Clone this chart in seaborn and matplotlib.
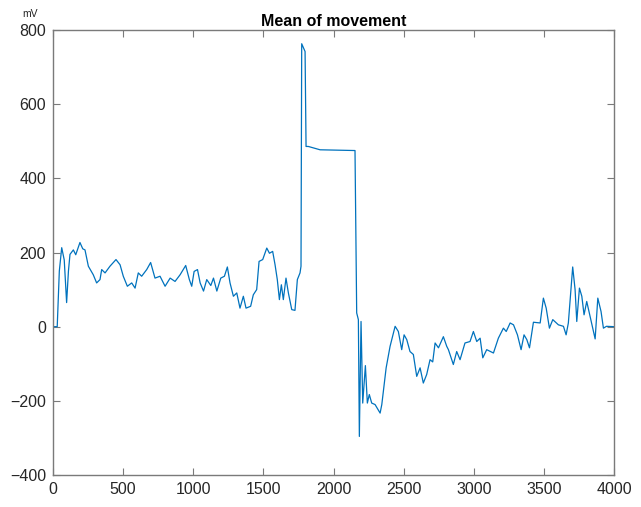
import matplotlib
matplotlib.use("Agg")
import matplotlib.pyplot as plt
import seaborn as sns
import pandas as pd

sample = [0, 30, 45, 62, 80, 97, 110, 121, 145, 162, 192, 212, 228, 252, 287, 311, 335, 347, 371, 406,
          449, 478, 501, 530, 561, 585, 608, 632, 668, 696, 727, 763, 799, 835, 870, 906, 946, 972,
          989, 1006, 1030, 1049, 1073, 1096, 1125, 1144, 1168, 1196, 1222, 1243, 1262, 1286, 1310, 1333,
          1357, 1376, 1409, 1428, 1452, 1469, 1495, 1524, 1543, 1566, 1583, 1599, 1614, 1628, 1642, 1661,
          1678, 1702, 1725, 1742, 1761, 1768, 1773, 1797, 1804, 1820, 1904, 2153, 2165, 2177, 2184, 2196, 2208,
          2227, 2241, 2255, 2272, 2296, 2332, 2344, 2375, 2403, 2439, 2462, 2486, 2503, 2522, 2545, 2569,
          2593, 2617, 2640, 2664, 2688, 2707, 2724, 2748, 2783, 2807, 2819, 2854, 2878, 2902, 2937, 2973,
          2997, 3021, 3045, 3064, 3092, 3140, 3175, 3211, 3231, 3259, 3283, 3311, 3337, 3358, 3378, 3397,
          3425, 3473, 3496, 3516, 3539, 3563, 3603, 3639, 3658, 3674, 3705, 3722, 3734, 3753, 3770, 3786,
          3805, 3829, 3865, 3884, 3907, 3924, 3946, 4000]
mean_mv = [0, 0, 150, 213, 180, 65, 150, 195, 207, 194, 227, 210, 207, 163, 140, 118, 127, 154, 145, 163,
           181, 167, 136, 109, 118, 104, 145, 136, 154, 173, 131, 136, 109, 131, 122, 140, 165, 127,
           109, 149, 154, 118, 96, 127, 111, 131, 96, 131, 136, 161, 118, 82, 91, 50,
           82, 50, 55, 86, 100, 176, 181, 212, 198, 203, 167, 127, 73, 113, 73, 131,
           91, 46, 44, 127, 145, 163, 763, 742, 486, 486, 477, 475, 37, 19, -296, 14, -206,
           -105, -206, -183, -206, -210, -233, -210, -111, -53, 1, -13, -62, -22, -35, -67, -75,
           -134, -111, -152, -129, -89, -95, -44, -57, -27, -53, -62, -102, -67, -89, -44, -40,
           -13, -40, -31, -84, -62, -71, -31, -4, -13, 10, 5, -22, -62, -22, -35, -57,
           12, 10, 77, 50, -4, 19, 5, 1, -22, 10, 161, 100, 14, 104, 82, 32,
           68, 28, -33, 77, 41, -4, 1, 0]

x_ticks = [0, 500, 1000, 1500, 2000, 2500, 3000, 3500, 4000]
y_ticks = [-400, -200, 0, 200, 400, 600, 800]

df = pd.DataFrame({"sample": sample, "mV": mean_mv})

sns.set_style("white")
plt.rcParams["font.family"] = ["Liberation Sans", "DejaVu Sans"]

fig = plt.figure(figsize=(6.41, 5.07), dpi=100)
ax = fig.add_axes([0.0827, 0.0631, 0.8753, 0.8777])

sns.lineplot(data=df, x="sample", y="mV", ax=ax, color="#0072BD", linewidth=0.9,
             sort=False, estimator=None)

ax.set_xlim(0, 4000)
ax.set_ylim(-400, 800)
ax.set_xticks(x_ticks)
ax.set_yticks(y_ticks)
ax.set_xlabel("")
ax.set_ylabel("")
ax.set_title("Mean of movement", fontsize=11.5, fontweight="bold", color="#000000", pad=3)

for s in ax.spines.values():
    s.set_visible(True)
    s.set_color("#7a7a7a")
    s.set_linewidth(1.0)

ax.tick_params(axis="both", which="both", direction="in", length=5, width=0.8,
               color="#7a7a7a", labelcolor="#262626", labelsize=11.5,
               top=True, right=True, bottom=True, left=True, pad=5)

fig.text(0.047, 0.962, "mV", fontsize=7.5, color="#262626", ha="center", va="bottom")

fig.savefig("out.png", dpi=100)
